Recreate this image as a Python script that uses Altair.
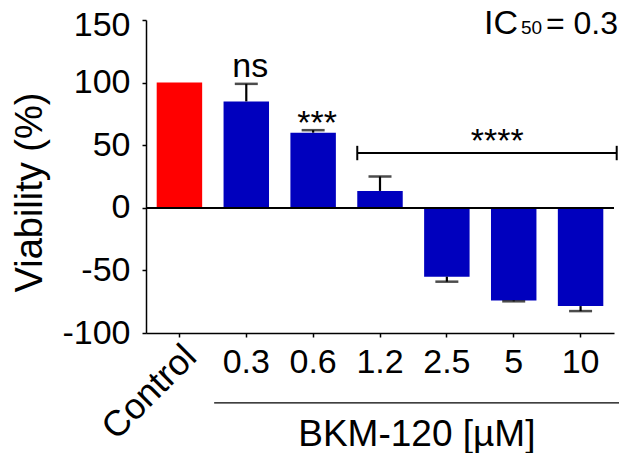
import altair as alt
import pandas as pd

categories = ["Control", "0.3", "0.6", "1.2", "2.5", "5", "10"]
viability = [100, 85, 60, 13.5, -55, -74, -78.5]
sem = [0, 14, 2, 11.5, 4, 0.7, 4]
bar_colors = ["#FF0000"] + ["#0000BE"] * 6
y_ticks = [-100, -50, 0, 50, 100, 150]

FONT = "Liberation Sans"
W, H = 468, 313

df = pd.DataFrame({"cat": categories, "v": viability, "sem": sem, "color": bar_colors})
df["end"] = [v + (s if v >= 0 else -s) for v, s in zip(viability, sem)]
err = df[df["sem"] > 0]

xscale = alt.Scale(domain=categories, paddingInner=0.32, paddingOuter=0.16)
yscale = alt.Scale(domain=[-100, 150], nice=False, zero=False)

x_axis = alt.Axis(
    title=None, labelExpr="datum.value == 'Control' ? '' : datum.value",
    labelAngle=0, labelFontSize=34, labelFont=FONT, labelColor="black",
    labelPadding=8, tickSize=4, tickWidth=1.5, tickColor="black",
    domainColor="black", domainWidth=1.5, grid=False,
)
y_axis = alt.Axis(
    values=y_ticks, labelExpr="'' + datum.value",
    labelOffset=alt.condition("datum.value == 150", alt.value(5), alt.value(0)),
    title="Viability (%)", titleFont=FONT, titleFontSize=38,
    titleFontWeight="normal", titleColor="black", titleAngle=270,
    titleX=-105, titleY=172, titleAlign="center", titleBaseline="alphabetic",
    labelFontSize=34, labelFont=FONT, labelColor="black", labelPadding=12,
    tickSize=4, tickWidth=1.5, tickColor="black", domainColor="black",
    domainWidth=1.5, grid=False,
)

bars = alt.Chart(df).mark_bar().encode(
    x=alt.X("cat:N", scale=xscale, axis=x_axis, sort=categories),
    y=alt.Y("v:Q", scale=yscale, axis=y_axis),
    y2=alt.datum(0),
    color=alt.Color("color:N", scale=None),
)

zero = alt.Chart(df).mark_rule(color="black", strokeWidth=1.5).encode(
    y=alt.datum(0)
)

err_rule = alt.Chart(err).mark_rule(color="black", strokeWidth=2.2).encode(
    x="cat:N", y="v:Q", y2="end:Q"
)
err_cap = alt.Chart(err).mark_tick(color="black", thickness=2.5, size=23).encode(
    x="cat:N", y="end:Q"
)

# significance bracket
br = pd.DataFrame({"a": ["1.2"], "b": ["10"], "y": [43.7], "lo": [38.0], "hi": [49.5]})
bracket = alt.Chart(br).mark_rule(color="black", strokeWidth=2, x2Offset=13.4).encode(
    x=alt.X("a:N", bandPosition=0),
    x2=alt.X2("b:N", bandPosition=1),
    y="y:Q",
)
cap_l = alt.Chart(br).mark_rule(color="black", strokeWidth=2).encode(
    x=alt.X("a:N", bandPosition=0), y="lo:Q", y2="hi:Q"
)
cap_r = alt.Chart(br).mark_rule(color="black", strokeWidth=2, xOffset=13.4).encode(
    x=alt.X("b:N", bandPosition=1), y="lo:Q", y2="hi:Q"
)

def label(cat, y, text, dx=0, size=34, align="center"):
    d = pd.DataFrame({"cat": [cat], "y": [y], "t": [text]})
    return alt.Chart(d).mark_text(
        font=FONT, fontSize=size, color="black", align=align,
        baseline="alphabetic", dx=dx,
    ).encode(x="cat:N", y="y:Q", text="t:N")

ns = label("0.3", 104.8, "ns", dx=4)
s3 = label("0.6", 58.9, "***", dx=4)
s4 = label("5", 44.5, "****", dx=-16.5)
ic1 = label("10", 139.2, "IC", dx=-96.6, align="left")
ic2 = label("10", 139.2, "50", dx=-59.6, size=19, align="left")
ic3 = label("10", 139.2, "= 0.3", dx=37.4, size=32, align="right")
bkm = label("2.5", -190.4, "BKM-120 [µM]", dx=-30, size=37)

ul = pd.DataFrame({"a": ["0.3"], "b": ["10"], "y": [-155.8]})
underline = alt.Chart(ul).mark_rule(
    color="black", strokeWidth=1.2, xOffset=-9.4, x2Offset=15.7
).encode(
    x=alt.X("a:N", bandPosition=0),
    x2=alt.X2("b:N", bandPosition=1),
    y="y:Q",
)

ctrl = alt.Chart(pd.DataFrame({"cat": ["Control"], "y": [-105]})).mark_text(
    font=FONT, fontSize=36, color="black", angle=315, align="right", baseline="top"
).encode(x=alt.X("cat:N", bandPosition=0.48), y="y:Q", text="cat:N")

chart = alt.layer(
    bars, zero, err_rule, err_cap, bracket, cap_l, cap_r,
    ns, s3, s4, ic1, ic2, ic3, bkm, underline, ctrl,
).properties(
    width=W, height=H,
    autosize=alt.AutoSizeParams(type="none"),
    padding={"left": 138, "top": 12, "right": 6, "bottom": 120},
).configure_view(stroke=None)

chart.save("out.html", embed_options={"renderer": "svg", "actions": False})
